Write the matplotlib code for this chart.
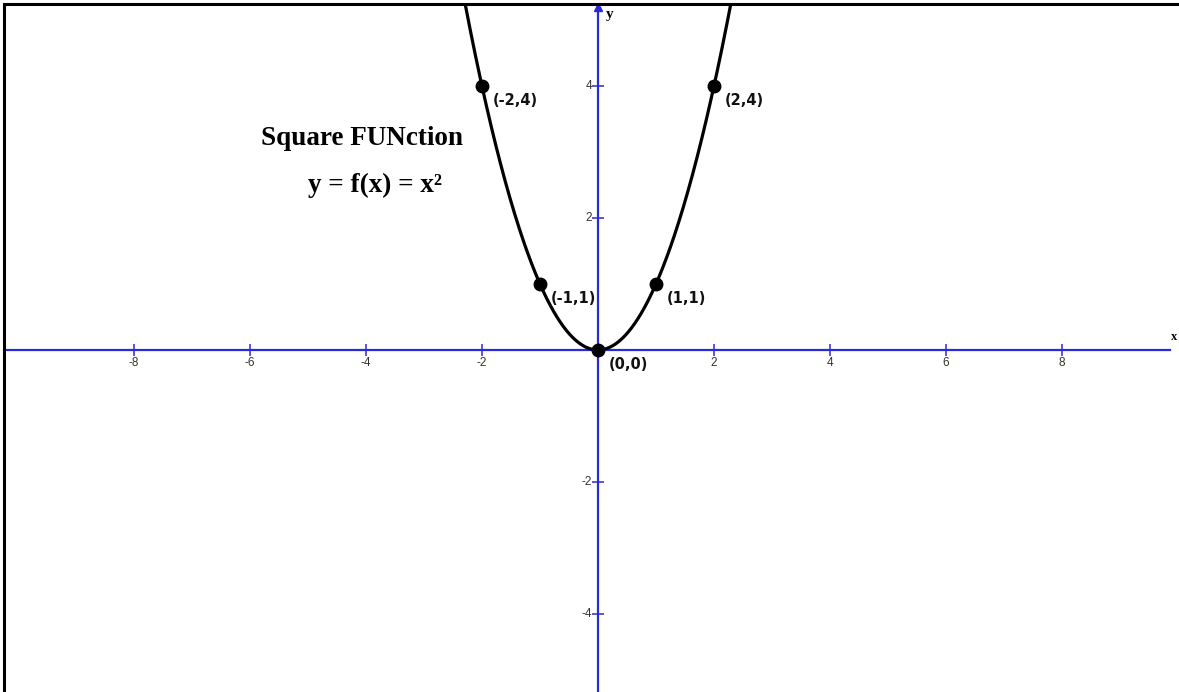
import numpy as np
import matplotlib
matplotlib.use("Agg")
import matplotlib.pyplot as plt

# labelled points on the parabola
pt_x = [-2, -1, 0, 1, 2]
pt_y = [4, 1, 0, 1, 4]
pt_labels = ["(-2,4)", "(-1,1)", "(0,0)", "(1,1)", "(2,4)"]

x_ticks = [-8, -6, -4, -2, 2, 4, 6, 8]
y_ticks = [-4, -2, 2, 4]

axis_blue = "#2a2ad8"

fig = plt.figure(figsize=(11.79, 6.92), dpi=100)
ax = fig.add_axes([4 / 1179, 0, 1175 / 1179, 688 / 692])
ax.set_xlim(-10.24, 10.017)
ax.set_ylim(-5.182, 5.242)

for side in ["right", "bottom"]:
    ax.spines[side].set_visible(False)
for side in ["left", "top"]:
    ax.spines[side].set_color("black")
    ax.spines[side].set_linewidth(2.2)
ax.set_xticks([])
ax.set_yticks([])

# coordinate axes through the origin
ax.plot([-10.3, 9.86], [0, 0], color=axis_blue, lw=1.6, zorder=2)
ax.plot([0, 0], [-5.3, 5.2], color=axis_blue, lw=1.6, zorder=2)
ax.plot([0], [5.19], marker="^", color=axis_blue, ms=6, zorder=2, clip_on=False)

# tick marks and labels
ax.plot(x_ticks, np.zeros(len(x_ticks)), ls="none", marker="|", ms=9,
        mew=1.1, color=axis_blue, zorder=2)
ax.plot(np.zeros(len(y_ticks)), y_ticks, ls="none", marker="_", ms=9,
        mew=1.1, color=axis_blue, zorder=2)
for t in x_ticks:
    ax.annotate(str(t), (t, 0), xytext=(0, -7), textcoords="offset pixels",
                ha="center", va="top", fontsize=8.5, color="#333333",
                family="Liberation Sans")
for t in y_ticks:
    ax.annotate(str(t), (0, t), xytext=(-6, 0), textcoords="offset pixels",
                ha="right", va="center", fontsize=8.5, color="#333333",
                family="Liberation Sans")

ax.text(0.13, 5.08, "y", fontsize=11, fontweight="bold",
        family="Liberation Serif", va="center", ha="left")
ax.text(9.88, 0.2, "x", fontsize=9, fontweight="bold",
        family="Liberation Serif", va="center", ha="left", clip_on=False)

# the square function
xs = np.linspace(-2.3, 2.3, 400)
ax.plot(xs, xs ** 2, color="black", lw=2.3, zorder=3)
ax.plot(pt_x, pt_y, ls="none", marker="o", ms=9, color="black", zorder=4)
for x, y, lab in zip(pt_x, pt_y, pt_labels):
    ax.annotate(lab, (x, y), xytext=(11, -15), textcoords="offset pixels",
                ha="left", va="center", fontsize=10.5, fontweight="bold",
                family="DejaVu Sans", color="#111111")

ax.text(-5.81, 3.21, "Square FUNction", fontsize=19.5, fontweight="bold",
        family="Liberation Serif", va="center", ha="left")
ax.text(-5.0, 2.5, "y = f(x) = x²", fontsize=19.5, fontweight="bold",
        family="Liberation Serif", va="center", ha="left")

fig.savefig("out.png", dpi=100)
